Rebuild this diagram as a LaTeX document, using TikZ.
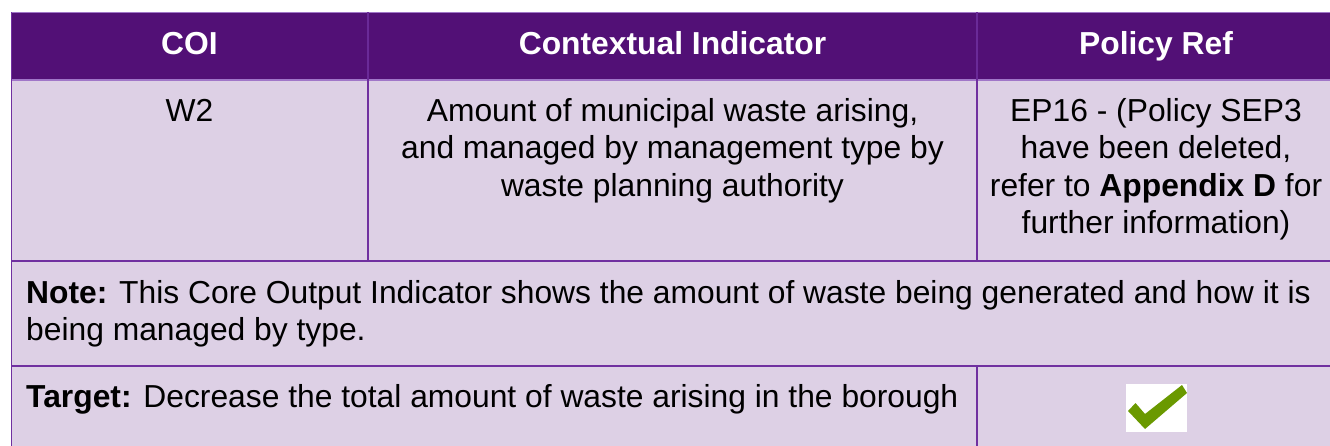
\documentclass[tikz,border=0pt]{standalone}
\usepackage{fontspec}
\setmainfont{Liberation Sans}
\definecolor{coihead}{RGB}{82,16,118}
\definecolor{coibody}{RGB}{221,208,229}
\definecolor{coiline}{RGB}{112,48,160}
\definecolor{coilight}{RGB}{160,118,200}
\definecolor{tickgreen}{RGB}{106,153,0}
\begin{document}
\begin{tikzpicture}[x=1pt, y=-1pt, line join=round,
		cell/.style={inner sep=0pt, align=center, font=\fontsize{31.8}{37.5}\selectfont},
		head/.style={cell, text=white, font=\fontsize{31.8}{37.5}\selectfont\bfseries}]
			\def\xl{11.5} \def\xa{368} \def\xb{977} \def\xr{1335}  % column edges
			\def\yt{12.5} \def\yh{80} \def\ya{261} \def\yb{366} \def\yr{450} % row edges
			\def\ls{37.5} % line step
			\useasboundingbox (0,0) rectangle (1330,446);
			% fills
			\fill[coihead] (\xl,\yt) rectangle (\xr,\yh);
			\fill[coibody] (\xl,\yh) rectangle (\xr,\yr);
			% grid
			\draw[coilight, line width=1.2pt] (\xl,\yt)--(\xr,\yt);
			\draw[coilight, line width=1.2pt] (\xl,\yh)--(\xr,\yh);
			\draw[coiline, line width=1.2pt] (\xl,\ya)--(\xr,\ya) (\xl,\yb)--(\xr,\yb);
			\draw[coiline, line width=1.2pt] (\xl,\yt)--(\xl,\yr);
			\draw[coiline!80!coihead, line width=1.2pt] (\xa,\yt)--(\xa,\yh) (\xb,\yt)--(\xb,\yh);
			\draw[coiline, line width=1.2pt] (\xa,\yh)--(\xa,\ya) (\xb,\yh)--(\xb,\ya) (\xb,\yb)--(\xb,\yr);
			% header
			\node[head, anchor=base] (coi) at (189.5,55) {COI};
			\node[head, anchor=base] (ctx) at (672.5,55) {Contextual Indicator};
			\node[head, anchor=base] (pol) at (1156,55) {Policy Ref};
			% row W2 (base = last line)
			\node[cell, anchor=base] (w2) at (189.5,121.5) {W2};
			\node[cell, anchor=base] (amount) at (672.5,121.5+2*\ls) {Amount of municipal waste arising,\\and managed by management type by\\waste planning authority};
			\node[cell, anchor=base] (ep16) at (1156,121.5+3*\ls) {EP16 - (Policy SEP3\\have been deleted,\\refer to \textbf{Appendix D} for\\further information)};
			% note and target
			\node[cell, align=left, anchor=base west] (note) at (26,303+\ls) {\textbf{Note:} This Core Output Indicator shows the amount of waste being generated and how it is\\being managed by type.};
			\node[cell, align=left, anchor=base west] (target) at (26,407) {\textbf{Target:} Decrease the total amount of waste arising in the borough};
			% tick
			\fill[white] (1126,384) rectangle (1186.5,432);
			\fill[tickgreen] (1128,411)--(1135.5,403)--(1145,414)--(1182,385)--(1187,393)--(1145,429)--cycle;
		\end{tikzpicture}
\end{document}
